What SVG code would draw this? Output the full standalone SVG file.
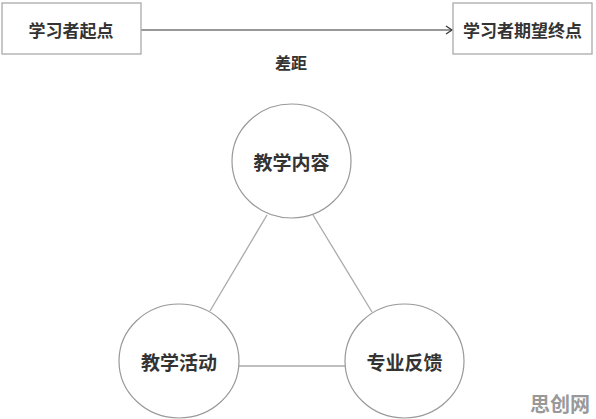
<svg xmlns="http://www.w3.org/2000/svg" width="596" height="419" viewBox="0 0 596 419">
<defs>
<style>
.box{fill:#fff;stroke:#aaa;stroke-width:1.3}
.circ{fill:#fff;stroke:#999;stroke-width:1.2}
.t{font-family:"Noto Sans CJK SC","Noto Sans",sans-serif;fill:#333;font-weight:bold;text-anchor:middle;dominant-baseline:central}
.link{stroke:#aaa;stroke-width:1.3;fill:none}
</style>
<marker id="arr" markerWidth="10" markerHeight="10" refX="8" refY="5" orient="auto" markerUnits="userSpaceOnUse">
<path d="M2,1 L8,5 L2,9" fill="none" stroke="#333" stroke-width="1.2"/>
</marker>
</defs>
<rect width="596" height="419" fill="#fff"/>
<g id="connectors">
<line x1="141" y1="30" x2="452" y2="30" stroke="#333" stroke-width="1.2" marker-end="url(#arr)"/>
<line class="link" x1="267" y1="215" x2="210" y2="311"/>
<line class="link" x1="313" y1="215" x2="372" y2="312"/>
<line class="link" x1="239" y1="366" x2="345" y2="366"/>
</g>
<g id="start">
<rect class="box" x="2" y="3" width="139" height="51"/>
<text class="t" x="71" y="29" font-size="17">学习者起点</text>
</g>
<g id="end">
<rect class="box" x="453" y="3" width="139" height="51"/>
<text class="t" x="522.5" y="29" font-size="17">学习者期望终点</text>
</g>
<g id="gap">
<text class="t" x="291" y="62" font-size="16">差距</text>
</g>
<g id="content">
<ellipse class="circ" cx="291.5" cy="161" rx="59.5" ry="57"/>
<text class="t" x="291.5" y="161" font-size="19">教学内容</text>
</g>
<g id="activity">
<ellipse class="circ" cx="179" cy="361" rx="60" ry="57"/>
<text class="t" x="179" y="361" font-size="19">教学活动</text>
</g>
<g id="feedback">
<ellipse class="circ" cx="404.5" cy="361" rx="59.5" ry="57"/>
<text class="t" x="404.5" y="361" font-size="19">专业反馈</text>
</g>
<text x="560" y="403" font-family="Noto Sans CJK SC,sans-serif" font-size="20" font-weight="bold" fill="#999" text-anchor="middle" dominant-baseline="central">思创网</text>
</svg>
